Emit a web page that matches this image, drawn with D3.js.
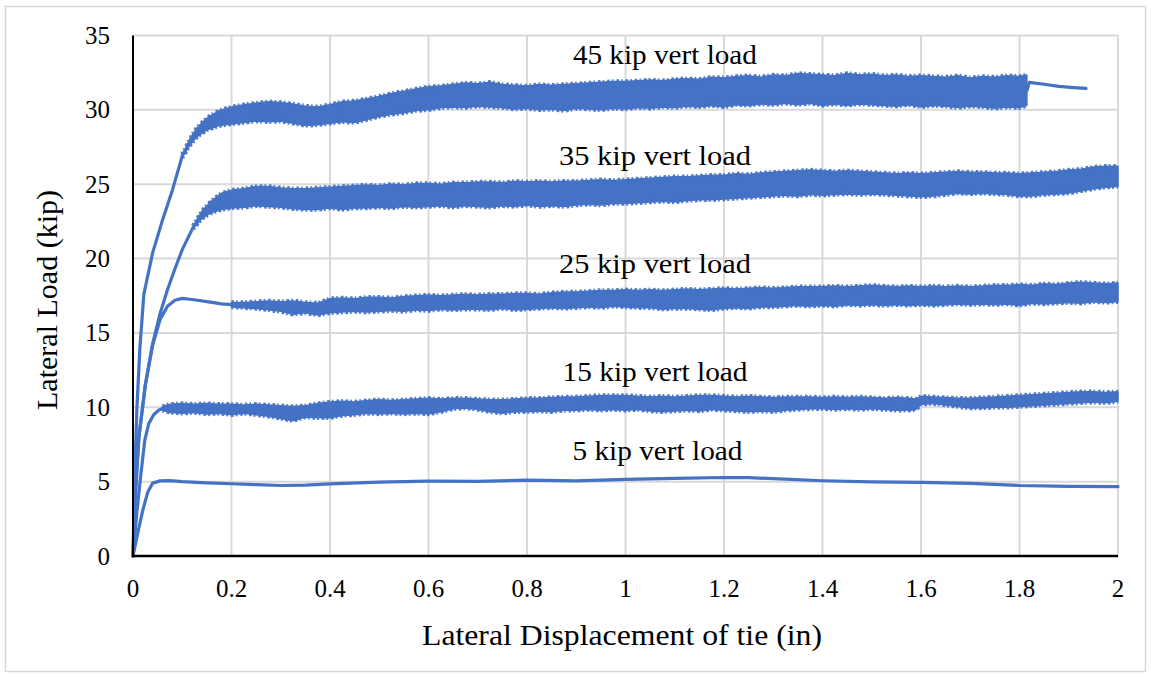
<!DOCTYPE html>
<html>
<head>
<meta charset="utf-8">
<script src="https://cdn.jsdelivr.net/npm/d3@7"></script>
<style>
  html, body { margin: 0; padding: 0; background: #fff; }
  svg { display: block; }
  text { font-family: "Liberation Serif", "Times New Roman", serif; fill: #000; }
</style>
</head>
<body>
<svg id="chart" width="1151" height="677"></svg>
<script>
// Lateral load vs. lateral displacement of tie, one curve per vertical load level.

const xTicks = [0, 0.2, 0.4, 0.6, 0.8, 1, 1.2, 1.4, 1.6, 1.8, 2];
const yTicks = [0, 5, 10, 15, 20, 25, 30, 35];

const seriesNames = ["5 kip vert load", "15 kip vert load", "25 kip vert load", "35 kip vert load", "45 kip vert load"];

// Smooth loading branches: [displacement (in), lateral load (kip)]
const rise5 = [
  [0, 0], [0.01, 1.6], [0.02, 3.1], [0.03, 4.3], [0.04, 4.9], [0.055, 5.05], [0.075, 5.07],
  [0.1, 5.0], [0.15, 4.92], [0.2, 4.86], [0.25, 4.8], [0.3, 4.74], [0.35, 4.76], [0.4, 4.85],
  [0.5, 4.97], [0.6, 5.03], [0.7, 5.02], [0.8, 5.1], [0.9, 5.05], [1.0, 5.15], [1.1, 5.22],
  [1.2, 5.28], [1.25, 5.27], [1.3, 5.2], [1.4, 5.06], [1.5, 4.98], [1.6, 4.95], [1.7, 4.88],
  [1.8, 4.74], [1.9, 4.68], [2.0, 4.66]
];
const rise15 = [[0, 0], [0.008, 3], [0.016, 5.5], [0.024, 7.8], [0.032, 8.9], [0.042, 9.5], [0.052, 9.8], [0.06, 9.92]];
const rise25 = [
  [0, 0], [0.005, 4], [0.012, 8], [0.025, 11.5], [0.04, 14.2], [0.055, 15.9], [0.07, 16.8],
  [0.085, 17.2], [0.1, 17.32], [0.12, 17.25], [0.15, 17.1], [0.18, 16.95], [0.2, 16.9]
];
const rise35 = [
  [0, 0], [0.004, 4], [0.012, 8], [0.025, 11.5], [0.04, 14.3], [0.055, 16.3], [0.07, 17.9],
  [0.085, 19.3], [0.1, 20.6], [0.122, 22.1]
];
const rise45 = [
  [0, 0], [0.003, 5], [0.008, 10], [0.014, 14], [0.022, 17.6], [0.04, 20.4], [0.06, 22.6],
  [0.08, 24.6], [0.1, 26.9]
];
// Unloading tail of the 45 kip test
const tail45 = [[1.815, 31.3], [1.82, 31.85], [1.85, 31.72], [1.88, 31.58], [1.91, 31.5], [1.935, 31.45]];

// Cyclic (oscillating) range: [displacement (in), low load, high load]
const band15 = [
  [0.06, 9.8, 10.05], [0.075, 9.65, 10.2], [0.1, 9.6, 10.25], [0.125, 9.65, 10.2], [0.15, 9.55, 10.25],
  [0.175, 9.6, 10.2], [0.2, 9.5, 10.2], [0.225, 9.6, 10.15], [0.25, 9.5, 10.2], [0.275, 9.4, 10.15],
  [0.3, 9.25, 10.1], [0.325, 9.1, 10.05], [0.35, 9.35, 10.1], [0.375, 9.3, 10.25], [0.4, 9.3, 10.35],
  [0.425, 9.45, 10.4], [0.45, 9.5, 10.35], [0.475, 9.6, 10.45], [0.5, 9.55, 10.5], [0.525, 9.6, 10.45],
  [0.55, 9.55, 10.5], [0.575, 9.6, 10.55], [0.6, 9.55, 10.6], [0.625, 9.7, 10.55], [0.65, 9.9, 10.6],
  [0.675, 9.95, 10.6], [0.7, 9.85, 10.55], [0.725, 9.7, 10.5], [0.75, 9.6, 10.5], [0.775, 9.7, 10.55],
  [0.8, 9.7, 10.6], [0.825, 9.75, 10.6], [0.85, 9.7, 10.65], [0.875, 9.8, 10.7], [0.9, 9.8, 10.7],
  [0.925, 9.85, 10.75], [0.95, 9.8, 10.8], [0.975, 9.85, 10.8], [1.0, 9.8, 10.8], [1.025, 9.85, 10.75],
  [1.05, 9.75, 10.7], [1.075, 9.7, 10.75], [1.1, 9.75, 10.7], [1.125, 9.8, 10.75], [1.15, 9.75, 10.8],
  [1.175, 9.85, 10.8], [1.2, 9.8, 10.75], [1.225, 9.75, 10.7], [1.25, 9.7, 10.75], [1.275, 9.75, 10.7],
  [1.3, 9.7, 10.65], [1.325, 9.8, 10.7], [1.35, 9.85, 10.7], [1.375, 9.9, 10.7], [1.4, 9.9, 10.65],
  [1.425, 9.85, 10.7], [1.45, 9.9, 10.65], [1.475, 9.85, 10.7], [1.5, 9.9, 10.65], [1.525, 9.85, 10.6],
  [1.55, 9.8, 10.65], [1.575, 9.8, 10.6], [1.59, 9.85, 10.55], [1.6, 10.2, 10.75], [1.625, 10.25, 10.7],
  [1.65, 10.15, 10.65], [1.675, 10.05, 10.6], [1.7, 9.95, 10.6], [1.725, 9.95, 10.65], [1.75, 10.0, 10.7],
  [1.775, 10.0, 10.75], [1.8, 10.05, 10.8], [1.825, 10.1, 10.85], [1.85, 10.15, 10.9], [1.875, 10.2, 10.95],
  [1.9, 10.25, 11.0], [1.925, 10.3, 11.05], [1.95, 10.35, 11.05], [1.975, 10.3, 11.0], [2.0, 10.4, 11.05]
];
const band25 = [
  [0.2, 16.75, 17.05], [0.225, 16.7, 17.05], [0.25, 16.65, 17.1], [0.275, 16.55, 17.15], [0.3, 16.45, 17.1],
  [0.325, 16.25, 17.15], [0.35, 16.35, 17.05], [0.375, 16.2, 17.0], [0.4, 16.35, 17.3], [0.425, 16.4, 17.35],
  [0.45, 16.45, 17.3], [0.475, 16.4, 17.4], [0.5, 16.45, 17.4], [0.525, 16.5, 17.35], [0.55, 16.45, 17.45],
  [0.575, 16.55, 17.5], [0.6, 16.5, 17.55], [0.625, 16.6, 17.5], [0.65, 16.55, 17.55], [0.675, 16.6, 17.6],
  [0.7, 16.6, 17.55], [0.725, 16.55, 17.6], [0.75, 16.65, 17.6], [0.775, 16.55, 17.65], [0.8, 16.6, 17.65],
  [0.825, 16.65, 17.6], [0.85, 16.7, 17.7], [0.875, 16.65, 17.75], [0.9, 16.7, 17.75], [0.925, 16.75, 17.8],
  [0.95, 16.7, 17.85], [0.975, 16.8, 17.85], [1.0, 16.75, 17.9], [1.025, 16.7, 17.85], [1.05, 16.7, 17.9],
  [1.075, 16.6, 17.85], [1.1, 16.65, 17.9], [1.125, 16.65, 17.95], [1.15, 16.6, 17.9], [1.175, 16.55, 17.95],
  [1.2, 16.65, 18.0], [1.225, 16.7, 17.95], [1.25, 16.65, 18.0], [1.275, 16.75, 18.05], [1.3, 16.75, 18.0],
  [1.325, 16.8, 18.05], [1.35, 16.85, 18.1], [1.375, 16.8, 18.1], [1.4, 16.85, 18.1], [1.425, 16.8, 18.15],
  [1.45, 16.9, 18.1], [1.475, 16.85, 18.15], [1.5, 16.9, 18.2], [1.525, 16.85, 18.15], [1.55, 16.9, 18.1],
  [1.575, 16.85, 18.15], [1.6, 16.9, 18.1], [1.625, 16.85, 18.15], [1.65, 16.9, 18.1], [1.675, 16.95, 18.15],
  [1.7, 16.9, 18.1], [1.725, 16.95, 18.15], [1.75, 16.9, 18.2], [1.775, 16.95, 18.2], [1.8, 16.85, 18.25],
  [1.825, 17.0, 18.2], [1.85, 16.95, 18.3], [1.875, 17.0, 18.25], [1.9, 17.05, 18.35], [1.925, 17.0, 18.4],
  [1.95, 17.1, 18.35], [1.975, 17.05, 18.3], [2.0, 17.1, 18.35]
];
const band35 = [
  [0.122, 22.0, 22.2], [0.14, 22.7, 23.2], [0.16, 23.1, 23.9], [0.18, 23.3, 24.4],
  [0.2, 23.4, 24.6], [0.225, 23.45, 24.7], [0.25, 23.55, 24.85], [0.275, 23.5, 24.85],
  [0.3, 23.45, 24.75], [0.325, 23.35, 24.7], [0.35, 23.3, 24.7], [0.375, 23.3, 24.75], [0.4, 23.4, 24.8],
  [0.425, 23.3, 24.85], [0.45, 23.4, 24.9], [0.475, 23.4, 24.95], [0.5, 23.45, 24.9], [0.525, 23.4, 25.0],
  [0.55, 23.5, 24.95], [0.575, 23.45, 25.05], [0.6, 23.5, 25.05], [0.625, 23.55, 25.0], [0.65, 23.45, 25.1],
  [0.675, 23.55, 25.1], [0.7, 23.5, 25.15], [0.725, 23.45, 25.15], [0.75, 23.55, 25.1], [0.775, 23.5, 25.2],
  [0.8, 23.6, 25.15], [0.825, 23.5, 25.2], [0.85, 23.55, 25.15], [0.875, 23.5, 25.2], [0.9, 23.6, 25.2],
  [0.925, 23.65, 25.25], [0.95, 23.6, 25.3], [0.975, 23.7, 25.25], [1.0, 23.7, 25.3], [1.025, 23.75, 25.35],
  [1.05, 23.8, 25.4], [1.075, 23.85, 25.45], [1.1, 23.8, 25.5], [1.125, 23.9, 25.5], [1.15, 23.95, 25.55],
  [1.175, 23.95, 25.6], [1.2, 24.0, 25.6], [1.225, 24.05, 25.7], [1.25, 24.1, 25.65], [1.275, 24.15, 25.75],
  [1.3, 24.2, 25.8], [1.325, 24.25, 25.85], [1.35, 24.2, 25.9], [1.375, 24.3, 25.95], [1.4, 24.25, 25.9],
  [1.425, 24.3, 25.85], [1.45, 24.35, 25.9], [1.475, 24.3, 25.85], [1.5, 24.35, 25.8], [1.525, 24.3, 25.75],
  [1.55, 24.25, 25.7], [1.575, 24.2, 25.75], [1.6, 24.15, 25.7], [1.625, 24.2, 25.75], [1.65, 24.3, 25.8],
  [1.675, 24.4, 25.85], [1.7, 24.35, 25.8], [1.725, 24.4, 25.8], [1.75, 24.35, 25.75], [1.775, 24.3, 25.75],
  [1.8, 24.2, 25.7], [1.825, 24.2, 25.75], [1.85, 24.3, 25.8], [1.875, 24.35, 25.85], [1.9, 24.4, 25.95],
  [1.925, 24.55, 26.0], [1.95, 24.7, 26.15], [1.975, 24.8, 26.2], [2.0, 24.85, 26.2]
];
const band45 = [
  [0.1, 26.8, 27.0], [0.115, 27.6, 28.0], [0.13, 28.2, 28.8], [0.15, 28.65, 29.45], [0.175, 28.95, 29.95],
  [0.2, 29.05, 30.2], [0.225, 29.15, 30.35], [0.25, 29.25, 30.45], [0.275, 29.2, 30.55],
  [0.3, 29.25, 30.5], [0.325, 29.1, 30.4], [0.35, 28.95, 30.25], [0.375, 29.0, 30.2], [0.4, 29.1, 30.35],
  [0.425, 29.2, 30.55], [0.45, 29.15, 30.6], [0.475, 29.35, 30.75], [0.5, 29.55, 30.9], [0.525, 29.7, 31.1],
  [0.55, 29.8, 31.25], [0.575, 29.95, 31.4], [0.6, 30.0, 31.55], [0.625, 30.15, 31.6], [0.65, 30.2, 31.7],
  [0.675, 30.15, 31.8], [0.7, 30.25, 31.75], [0.725, 30.2, 31.85], [0.75, 30.15, 31.7], [0.775, 30.05, 31.65],
  [0.8, 30.1, 31.6], [0.825, 30.0, 31.7], [0.85, 30.05, 31.65], [0.875, 29.95, 31.7], [0.9, 30.1, 31.75],
  [0.925, 30.05, 31.8], [0.95, 30.0, 31.85], [0.975, 30.1, 31.9], [1.0, 30.05, 31.9], [1.025, 30.15, 31.95],
  [1.05, 30.1, 32.0], [1.075, 30.2, 31.95], [1.1, 30.15, 32.05], [1.125, 30.25, 32.1], [1.15, 30.2, 32.05],
  [1.175, 30.3, 32.2], [1.2, 30.2, 32.15], [1.225, 30.35, 32.25], [1.25, 30.3, 32.3], [1.275, 30.4, 32.2],
  [1.3, 30.35, 32.35], [1.325, 30.45, 32.3], [1.35, 30.35, 32.45], [1.375, 30.45, 32.4], [1.4, 30.3, 32.35],
  [1.425, 30.4, 32.3], [1.45, 30.3, 32.45], [1.475, 30.4, 32.35], [1.5, 30.35, 32.4], [1.525, 30.3, 32.3],
  [1.55, 30.25, 32.35], [1.575, 30.35, 32.25], [1.6, 30.2, 32.3], [1.625, 30.3, 32.25], [1.65, 30.25, 32.2],
  [1.675, 30.15, 32.3], [1.7, 30.25, 32.15], [1.725, 30.2, 32.25], [1.75, 30.1, 32.2], [1.775, 30.2, 32.3],
  [1.8, 30.15, 32.25], [1.815, 30.3, 32.35]
];

// Label anchor points for each curve: [displacement (in), lateral load (kip)]
const labelAt = [[1.065, 6.45], [1.06, 11.8], [1.06, 19.0], [1.06, 26.3], [1.08, 33.05]];
const labelWidth = [170, 185, 192, 192, 184];

const svg = d3.select("#chart");
const x = d3.scaleLinear().domain([0, 2]).range([133, 1118]);
const y = d3.scaleLinear().domain([0, 35]).range([556, 35.5]);
const blue = "#4472C4";
const grid = "#d9d9d9";

// outer frame
svg.append("rect").attr("x", 5.5).attr("y", 6.5).attr("width", 1140).attr("height", 665)
  .attr("fill", "#fff").attr("stroke", grid).attr("stroke-width", 1.5);

// gridlines
svg.append("g").selectAll("line").data(xTicks.filter(d => d > 0)).join("line")
  .attr("x1", d => x(d)).attr("x2", d => x(d)).attr("y1", y(35)).attr("y2", y(0))
  .attr("stroke", grid).attr("stroke-width", 2);
svg.append("g").selectAll("line").data(yTicks.filter(d => d > 0)).join("line")
  .attr("x1", x(0)).attr("x2", x(2)).attr("y1", d => y(d)).attr("y2", d => y(d))
  .attr("stroke", grid).attr("stroke-width", 2);

// series
const line = d3.line().x(d => x(d[0])).y(d => y(d[1]));
const area = d3.area().x(d => x(d[0])).y0(d => y(d[1])).y1(d => y(d[2]));
const lowEdge = d3.line().x(d => x(d[0])).y(d => y(d[1]));
const highEdge = d3.line().x(d => x(d[0])).y(d => y(d[2]));
const plot = svg.append("g");

[band15, band25, band35, band45].forEach(b => {
  plot.append("path").datum(b).attr("d", area)
    .attr("fill", blue).attr("stroke", blue).attr("stroke-width", 1.5)
    .attr("stroke-linejoin", "round");
  // serrated edges of the oscillation envelope
  [lowEdge, highEdge].forEach((edge, k) => {
    plot.append("path").datum(b).attr("d", edge)
      .attr("fill", "none").attr("stroke", blue).attr("stroke-width", 4.5)
      .attr("stroke-dasharray", k ? "2.5 2.2 1.5 3" : "1.8 2.8 2.6 2")
      .attr("opacity", 0.95);
  });
});
[rise5, rise15, rise25, rise35, rise45, tail45].forEach(r => {
  plot.append("path").datum(r).attr("d", line)
    .attr("fill", "none").attr("stroke", blue).attr("stroke-width", 3.2)
    .attr("stroke-linejoin", "round").attr("stroke-linecap", "round");
});

// axis lines
svg.append("line").attr("x1", x(0)).attr("x2", x(0)).attr("y1", y(35)).attr("y2", y(0))
  .attr("stroke", "#000").attr("stroke-width", 2);
svg.append("line").attr("x1", x(0) - 1).attr("x2", x(2)).attr("y1", y(0)).attr("y2", y(0))
  .attr("stroke", "#000").attr("stroke-width", 2.5);

// tick labels
svg.append("g").selectAll("text").data(yTicks).join("text")
  .attr("x", 110).attr("y", d => y(d) + 8.5).attr("text-anchor", "end")
  .attr("font-size", 25).text(d => d);
svg.append("g").selectAll("text").data(xTicks).join("text")
  .attr("x", d => x(d)).attr("y", 597).attr("text-anchor", "middle")
  .attr("font-size", 25).text(d => d);

// axis titles
svg.append("text").attr("transform", "translate(57,300) rotate(-90)")
  .attr("text-anchor", "middle").attr("font-size", 29.5)
  .attr("textLength", 220).attr("lengthAdjust", "spacingAndGlyphs")
  .text("Lateral Load (kip)");
svg.append("text").attr("x", 622).attr("y", 645)
  .attr("text-anchor", "middle").attr("font-size", 29.5)
  .attr("textLength", 400).attr("lengthAdjust", "spacingAndGlyphs")
  .text("Lateral Displacement of tie (in)");

// curve labels
svg.append("g").selectAll("text").data(seriesNames).join("text")
  .attr("x", (d, i) => x(labelAt[i][0])).attr("y", (d, i) => y(labelAt[i][1]))
  .attr("text-anchor", "middle").attr("font-size", 27)
  .attr("textLength", (d, i) => labelWidth[i]).attr("lengthAdjust", "spacingAndGlyphs")
  .text(d => d);
</script>
</body>
</html>
